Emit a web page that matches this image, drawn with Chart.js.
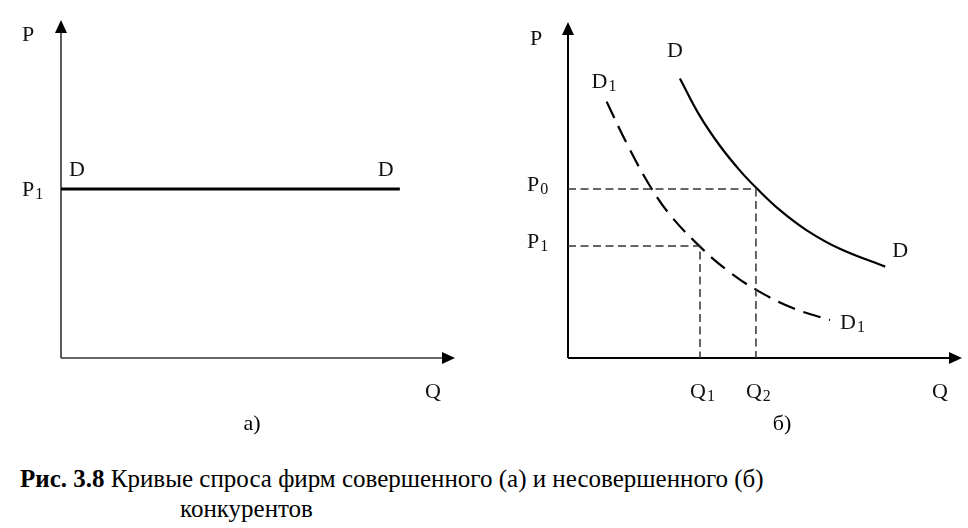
<!DOCTYPE html>
<html><head><meta charset="utf-8">
<script src="https://cdn.jsdelivr.net/npm/chart.js@4.4.0/dist/chart.umd.min.js"></script>
<style>
html,body{margin:0;padding:0;background:#fff;width:968px;height:528px;overflow:hidden}
#ca{position:absolute;left:0;top:0}
#cb{position:absolute;left:480px;top:0}
.cap{position:absolute;font-family:"Liberation Serif","Times New Roman",serif;font-size:25px;color:#000;white-space:nowrap;line-height:1}
</style></head><body>
<canvas id="ca" width="480" height="440"></canvas>
<canvas id="cb" width="488" height="440"></canvas>
<div class="cap" style="left:20px;top:466px"><b>Рис. 3.8</b> Кривые спроса фирм совершенного (а) и несовершенного (б)</div>
<div class="cap" style="left:180px;top:496px">конкурентов</div>
<script>
// ---- data (axes run 0..10 in both panels) ----
const flatQ = [0, 8.6];            // panel а: horizontal demand D
const flatP = [5.0, 5.0];
const demandQ  = [2.84, 3.35, 3.86, 4.37, 4.79, 5.38, 6.06, 6.90, 8.05]; // panel б: D
const demandP  = [8.32, 7.20, 6.31, 5.57, 5.05, 4.40, 3.80, 3.25, 2.72];
const demand1Q = [0.98, 1.49, 2.08, 2.59, 3.31, 4.03, 4.79, 5.72, 6.65]; // panel б: D1
const demand1P = [7.63, 6.39, 5.12, 4.26, 3.36, 2.62, 2.02, 1.48, 1.13];
const priceLevels = [5.03, 3.33];  // P0, P1
const qtyLevels   = [4.77, 3.35];  // Q2, Q1
const priceNames  = [['P','0'], ['P','1']];
const qtyNames    = [['Q','2'], ['Q','1']];

const SERIF = '"Liberation Serif","Times New Roman",serif';
function pts(xs, ys){ return xs.map((x,i)=>({x:x, y:ys[i]})); }
function txt(ctx, main, sub, x, y, align){
  ctx.font = '22px ' + SERIF;
  const w1 = ctx.measureText(main).width;
  let w2 = 0;
  if (sub){ ctx.font = '16px ' + SERIF; w2 = ctx.measureText(sub).width; }
  let x0 = x;
  if (align === 'center') x0 = x - (w1 + w2) / 2;
  ctx.textAlign = 'left'; ctx.textBaseline = 'alphabetic';
  ctx.font = '22px ' + SERIF; ctx.fillText(main, x0, y);
  if (sub){ ctx.font = '16px ' + SERIF; ctx.fillText(sub, x0 + w1 + 1, y + 3); }
}
function drawAxes(ctx, a, color, lw){
  ctx.save();
  ctx.strokeStyle = color; ctx.lineWidth = lw;
  ctx.beginPath();
  ctx.moveTo(a.left, a.bottom); ctx.lineTo(a.left, a.top + 10);
  ctx.moveTo(a.left, a.bottom); ctx.lineTo(a.right - 10, a.bottom);
  ctx.stroke();
  ctx.fillStyle = '#000';
  ctx.beginPath();
  ctx.moveTo(a.left, a.top); ctx.lineTo(a.left - 6, a.top + 13); ctx.lineTo(a.left + 6, a.top + 13); ctx.closePath(); ctx.fill();
  ctx.beginPath();
  ctx.moveTo(a.right, a.bottom); ctx.lineTo(a.right - 13, a.bottom - 6); ctx.lineTo(a.right - 13, a.bottom + 6); ctx.closePath(); ctx.fill();
  ctx.restore();
}
const baseScales = {
  x: {type:'linear', min:0, max:10, display:false},
  y: {type:'linear', min:0, max:10, display:false}
};
const common = {
  responsive:false, animation:false, events:[],
  plugins:{legend:{display:false}, tooltip:{enabled:false}},
  elements:{point:{radius:0}}
};

// ---- panel а ----
new Chart(document.getElementById('ca'), {
  type:'line',
  data:{datasets:[{data:pts(flatQ, flatP), borderColor:'#000', borderWidth:3, tension:0}]},
  options:Object.assign({}, common, {
    layout:{padding:{left:61, right:25, top:20, bottom:82}},
    scales:baseScales
  }),
  plugins:[{
    id:'decorA',
    beforeDatasetsDraw(chart){ drawAxes(chart.ctx, chart.chartArea, '#333', 1.6); },
    afterDatasetsDraw(chart){
      const ctx = chart.ctx, a = chart.chartArea, xs = chart.scales.x, ys = chart.scales.y;
      ctx.save(); ctx.fillStyle = '#111';
      const py = ys.getPixelForValue(flatP[0]);
      txt(ctx, 'P', '', a.left - 39, a.top + 21);
      txt(ctx, 'P', '1', a.left - 39, py + 7);
      txt(ctx, 'D', '', xs.getPixelForValue(flatQ[0]) + 8, py - 13);
      txt(ctx, 'D', '', xs.getPixelForValue(flatQ[1]) - 22, py - 13);
      txt(ctx, 'Q', '', a.right - 30, a.bottom + 40);
      ctx.fillStyle = '#000';
      txt(ctx, 'а)', '', 252, 430, 'center');
      ctx.restore();
    }
  }]
});

// ---- panel б ----
const refSets = priceLevels.map((p,i)=>({
  data:[{x:0, y:p}, {x:qtyLevels[i], y:p}, {x:qtyLevels[i], y:0}],
  borderColor:'#333', borderWidth:1.5, borderDash:[8,4.5], tension:0
}));
new Chart(document.getElementById('cb'), {
  type:'line',
  data:{datasets:[
    ...refSets,
    {data:pts(demandQ, demandP), borderColor:'#000', borderWidth:2.2, tension:0.4},
    {data:pts(demand1Q, demand1P), borderColor:'#000', borderWidth:2.2, borderDash:[18,9], tension:0.4}
  ]},
  options:Object.assign({}, common, {
    layout:{padding:{left:88, right:6, top:22, bottom:82}},
    scales:baseScales
  }),
  plugins:[{
    id:'decorB',
    beforeDatasetsDraw(chart){ drawAxes(chart.ctx, chart.chartArea, '#000', 2); },
    afterDatasetsDraw(chart){
      const ctx = chart.ctx, a = chart.chartArea, xs = chart.scales.x, ys = chart.scales.y;
      ctx.save(); ctx.fillStyle = '#111';
      txt(ctx, 'P', '', a.left - 38, a.top + 23);
      priceLevels.forEach((p,i)=>{
        txt(ctx, priceNames[i][0], priceNames[i][1], a.left - 41, ys.getPixelForValue(p) + 2);
      });
      qtyLevels.forEach((q,i)=>{
        txt(ctx, qtyNames[i][0], qtyNames[i][1], xs.getPixelForValue(q) - 10, a.bottom + 40);
      });
      const n = demandQ.length - 1, m = demand1Q.length - 1;
      txt(ctx, 'D', '', xs.getPixelForValue(demandQ[0]) - 13, ys.getPixelForValue(demandP[0]) - 21);
      txt(ctx, 'D', '', xs.getPixelForValue(demandQ[n]) + 7, ys.getPixelForValue(demandP[n]) - 10);
      txt(ctx, 'D', '1', xs.getPixelForValue(demand1Q[0]) - 15, ys.getPixelForValue(demand1P[0]) - 14);
      txt(ctx, 'D', '1', xs.getPixelForValue(demand1Q[m]) + 10, ys.getPixelForValue(demand1P[m]) + 9);
      txt(ctx, 'Q', '', a.right - 30, a.bottom + 40);
      ctx.fillStyle = '#000';
      txt(ctx, 'б)', '', 302, 430, 'center');
      ctx.restore();
    }
  }]
});
</script>
</body></html>
